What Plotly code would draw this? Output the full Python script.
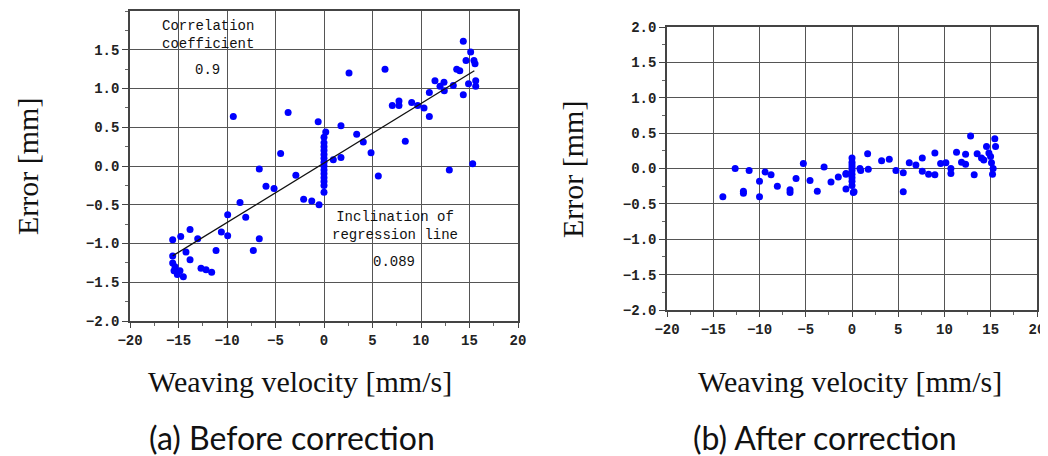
import plotly.graph_objects as go

# ---------------- data: (a) before correction ----------------
before_x = [-9.35, -3.7, -0.6, -4.47, -6.67, -2.9,
            14.36, 15.12, 14.64, 15.46, 15.57, 13.68, 14.0, 11.44, 12.37, 11.96, 12.4,
            13.33, 14.9, 15.64, 15.64, 14.36, 10.86, 7.73, 7.73, 7.04, 9.04, 9.66,
            10.31, 10.86, 2.58, 6.29, 0.18, 0.0, 1.75, 3.37, 4.05, 4.85, 8.38, 1.75,
            0.96, 5.6, 12.92, 15.33,
            0.0, 0.0, 0.0, 0.0, 0.0, 0.0, 0.0, 0.0, 0.0, 0.0, 0.0, 0.0, 0.0,
            -2.1, -1.26, -0.51, -5.98, -5.15, -8.66, -9.93, -8.07, -10.58, -9.93,
            -6.67, -7.29, -11.13, -13.81, -14.77, -13.02, -15.6, -14.23, -15.6,
            -13.81, -15.6, -15.36, -15.46, -14.85, -15.12, -14.5, -12.68, -12.16,
            -11.58]
before_y = [0.64, 0.69, 0.57, 0.16, -0.04, -0.12,
            1.61, 1.47, 1.36, 1.36, 1.32, 1.25, 1.23, 1.10, 1.08, 1.03, 0.97,
            1.04, 1.06, 1.10, 1.03, 0.92, 0.95, 0.84, 0.78, 0.78, 0.82, 0.78,
            0.75, 0.64, 1.20, 1.25, 0.44, 0.37, 0.52, 0.41, 0.31, 0.17, 0.32, 0.11,
            0.08, -0.13, -0.05, 0.03,
            0.25, 0.20, 0.15, 0.10, 0.05, 0.0, -0.05, -0.10, -0.15, -0.20, -0.25,
            -0.34, 0.30,
            -0.43, -0.45, -0.50, -0.26, -0.29, -0.47, -0.63, -0.66, -0.85, -0.90,
            -0.94, -1.09, -1.09, -0.82, -0.91, -0.94, -0.95, -1.11, -1.16,
            -1.21, -1.25, -1.30, -1.35, -1.35, -1.40, -1.43, -1.32, -1.34,
            -1.37]

# regression line end points (as drawn)
reg_x = [-15.6, 15.5]
reg_y = [-1.16, 1.23]

# ---------------- data: (b) after correction ----------------
after_x = [-12.63, -11.12, -9.4, -8.75, -10.0, -10.0, -13.96, -11.74, -11.74,
           -8.07, -6.7, -6.7, -6.05, -5.26, -4.54, -3.75, -3.02, -2.27, -1.48,
           -0.65, -0.65, 0.86,
           0.0, 0.0, 0.0, 0.0, 0.0, 0.0, 0.0, 0.0, 0.0, 0.14,
           -0.65, 0.22, 0.94, 1.76, 1.69, 3.2, 4.03, 4.75, 5.54, 5.54, 6.19,
           6.91, 7.6, 7.6, 8.28, 8.96, 8.96, 9.58, 10.15, 10.69, 10.69, 11.3,
           11.84, 12.28, 12.28, 12.82, 13.21, 13.53, 14.0, 14.25, 14.54, 14.8,
           14.98, 15.08, 15.26, 15.19, 15.44, 15.52]
after_y = [0.0, -0.03, -0.05, -0.09, -0.18, -0.40, -0.40, -0.32, -0.35,
           -0.25, -0.30, -0.34, -0.14, 0.07, -0.17, -0.32, 0.02, -0.19, -0.12,
           -0.07, -0.29, 0.0,
           0.15, 0.09, 0.05, 0.01, -0.03, -0.08, -0.13, -0.18, -0.24, -0.34,
           -0.08, -0.33, -0.03, -0.01, 0.21, 0.11, 0.13, -0.03, -0.06, -0.33, 0.08,
           0.05, 0.15, -0.04, -0.08, -0.09, 0.22, 0.07, 0.08, 0.0, -0.07, 0.23,
           0.09, 0.06, 0.20, 0.46, -0.09, 0.21, 0.15, 0.12, 0.31, 0.22,
           0.17, 0.08, 0.0, -0.08, 0.42, 0.31]

x_ticks = [-20, -15, -10, -5, 0, 5, 10, 15, 20]
x_ticktext = ["\u221220", "\u221215", "\u221210", "\u22125", "0", "5", "10", "15", "20"]
ya_ticks = [-2.0, -1.5, -1.0, -0.5, 0.0, 0.5, 1.0, 1.5]
ya_ticktext = ["\u22122.0", "\u22121.5", "\u22121.0", "\u22120.5", "0.0", "0.5", "1.0", "1.5"]
yb_ticks = [-2.0, -1.5, -1.0, -0.5, 0.0, 0.5, 1.0, 1.5, 2.0]
yb_ticktext = ["\u22122.0", "\u22121.5", "\u22121.0", "\u22120.5", "0.0", "0.5", "1.0", "1.5", "2.0"]

# page body margin offsets the figure by 8 px
OFF = 8
W, H = 1048 - OFF, 456 - OFF


def px(x):
    return (x - OFF) / W


def py(y):
    return 1 - (y - OFF) / H


fig = go.Figure()
fig.add_trace(go.Scatter(x=before_x, y=before_y, mode="markers",
                         marker=dict(color="#0000ff", size=7, line=dict(width=0)),
                         xaxis="x", yaxis="y", showlegend=False))
fig.add_trace(go.Scatter(x=reg_x, y=reg_y, mode="lines",
                         line=dict(color="#111111", width=1.3),
                         xaxis="x", yaxis="y", showlegend=False))
fig.add_trace(go.Scatter(x=after_x, y=after_y, mode="markers",
                         marker=dict(color="#0000ff", size=7, line=dict(width=0)),
                         xaxis="x2", yaxis="y2", showlegend=False))

tickfont = dict(family="Liberation Mono", size=14, color="#222222", weight=700)
common_x = dict(range=[-20, 20], tickvals=x_ticks, ticktext=x_ticktext,
                showgrid=True, gridcolor="#555555", gridwidth=1.3, automargin=False,
                zeroline=False, showline=True, linecolor="#444444", linewidth=1.5,
                mirror=True, ticks="outside", ticklen=5, tickcolor="#444444",
                tickfont=tickfont, fixedrange=True,
                minor=dict(dtick=2.5, tick0=0, ticks="outside", ticklen=3,
                           tickcolor="#666666", showgrid=False))
common_y = dict(range=[-2, 2], showgrid=True, gridcolor="#555555", gridwidth=1.3,
                automargin=False,
                zeroline=False, showline=True, linecolor="#444444", linewidth=1.5,
                mirror=True, ticks="outside", ticklen=6, tickcolor="#444444",
                tickfont=tickfont, fixedrange=True,
                minor=dict(dtick=0.25, tick0=0, ticks="outside", ticklen=3,
                           tickcolor="#666666", showgrid=False))

fig.update_layout(
    width=W, height=H,
    margin=dict(l=0, r=0, t=0, b=0, autoexpand=False),
    paper_bgcolor="white", plot_bgcolor="white",
    xaxis=dict(domain=[px(130), px(518)], anchor="y", **common_x),
    yaxis=dict(domain=[py(321), py(11)], anchor="x", tickvals=ya_ticks,
               ticktext=ya_ticktext, **common_y),
    xaxis2=dict(domain=[px(667), px(1037)], anchor="y2", **common_x),
    yaxis2=dict(domain=[py(310), py(27)], anchor="x2", tickvals=yb_ticks,
                ticktext=yb_ticktext, **common_y),
)

serif = dict(family="Liberation Serif", size=30, color="#111111")
caption = dict(family="Lato", size=32, color="#111111")
mono = dict(family="Liberation Mono", size=14, color="#111111")

annotations = [
    dict(text="Error [mm]", x=px(27), y=py(167), textangle=-90, font=serif),
    dict(text="Error [mm]", x=px(573), y=py(170), textangle=-90, font=serif),
    dict(text="Weaving velocity [mm/s]", x=px(300), y=py(381), font=serif),
    dict(text="Weaving velocity [mm/s]", x=px(850), y=py(381), font=serif),
    dict(text="(a) Before correction", x=px(292), y=py(437), font=caption),
    dict(text="(b) After correction", x=px(825), y=py(437), font=caption),
    dict(text="Correlation<br>coefficient", x=px(208), y=py(35), font=mono, align="center"),
    dict(text="0.9", x=px(207), y=py(70), font=mono),
    dict(text="Inclination of<br>regression line", x=px(395), y=py(226), font=mono, align="center"),
    dict(text="0.089", x=px(394), y=py(262), font=mono),
]
for a in annotations:
    a.update(xref="paper", yref="paper", showarrow=False, xanchor="center", yanchor="middle")
fig.update_layout(annotations=annotations)

fig.write_html("out.html")
